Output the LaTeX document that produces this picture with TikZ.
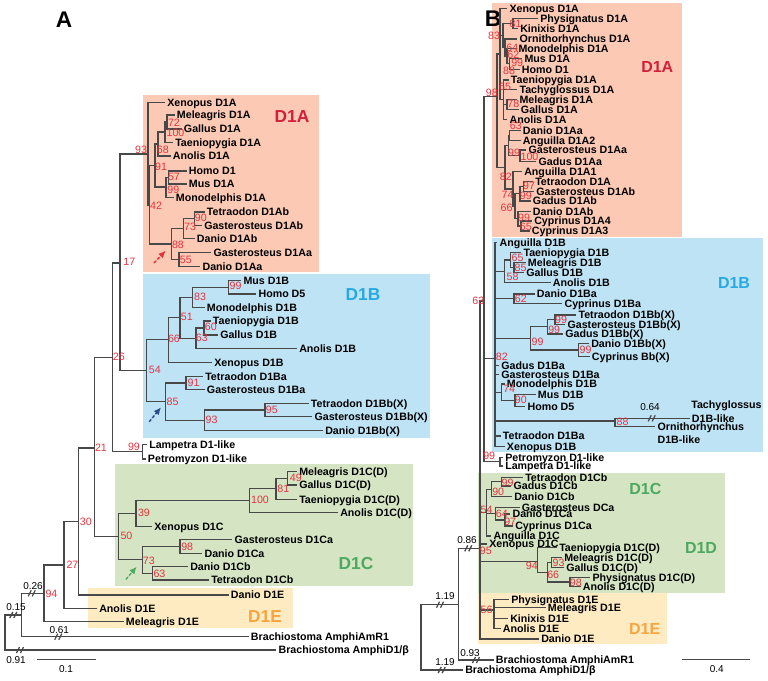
\documentclass[tikz,border=0pt]{standalone}
\usepackage{fontspec}
\setmainfont{Liberation Sans}
\usetikzlibrary{arrows.meta}
\definecolor{lc}{HTML}{484848}
\definecolor{bsred}{HTML}{E3343F}
\definecolor{fillA}{HTML}{FCCAB4}
\definecolor{fillB}{HTML}{BEE3F5}
\definecolor{fillC}{HTML}{D5E5C3}
\definecolor{fillE}{HTML}{FEEBC2}
\definecolor{colA}{HTML}{D31F3A}
\definecolor{colB}{HTML}{27AAE1}
\definecolor{colC}{HTML}{4DA862}
\definecolor{colE}{HTML}{F7A540}
\definecolor{arrB}{HTML}{2B4C8C}
\newcommand\lf[3]{\node[leaf] (#1) at (#2) {#3};}
\newcommand\bsl[3]{\node[bs] (#1) at (#2) {#3};}
\newcommand\eds[2]{\foreach \cc in {#2} {\draw[br] (#1) |- (\cc);}}
\newcommand\brkm[1]{\draw[br,shift={(#1)}] (-3.5,3) -- (-0.5,-3) (0.5,3) -- (3.5,-3);}
\begin{document}
\begin{tikzpicture}[x=0.75pt,y=-0.75pt,
 br/.style={draw=lc,line width=0.95pt},
 leaf/.style={anchor=west,inner xsep=1.5pt,inner ysep=0pt,text height=5.8pt,text depth=0pt,xshift=-1.5pt,font=\bfseries\fontsize{8}{9.6}\selectfont},
 ptxt/.style={anchor=west,inner sep=0pt,text height=5.8pt,text depth=0pt,font=\bfseries\fontsize{8}{9.6}\selectfont},
 bs/.style={text=bsred,inner sep=0pt,font=\fontsize{8}{9.6}\selectfont},
 bl/.style={inner sep=0pt,font=\fontsize{7.5}{9}\selectfont},
 clab/.style={inner sep=0pt,font=\bfseries\fontsize{13}{15}\selectfont},
 clabb/.style={inner sep=0pt,font=\bfseries\fontsize{12}{14}\selectfont},
 plab/.style={inner sep=0pt,font=\bfseries\fontsize{17}{20}\selectfont},
 hint/.style={line width=1.1pt,dash pattern=on 2.2pt off 1.5pt,-{Latex[length=5.5pt,width=5pt]}}
]
\useasboundingbox (0,0) rectangle (768,681);
% ---------- boxes
\fill[fillA] (143.3,95) rectangle (319,272);
\fill[fillB] (143.3,274) rectangle (430,437.7);
\fill[fillC] (115,464) rectangle (413.3,586);
\fill[fillE] (88.3,587.7) rectangle (292.7,628.3);
\fill[fillA] (491.7,2.7) rectangle (681.7,237.3);
\fill[fillB] (491.7,237.7) rectangle (762.7,451.7);
\fill[fillC] (478.3,472.7) rectangle (725,592.7);
\fill[fillE] (478.3,593.3) rectangle (666.7,644);
% ---------- panel and clade labels
\node[plab] (pA) at (64,20) {A};
\node[plab] (pB) at (493,19) {B};
\node[clab,text=colA] (tA1) at (292,117) {D1A};
\node[clab,text=colB] (tB1) at (363,295) {D1B};
\node[clab,text=colC] (tC1) at (356,564) {D1C};
\node[clab,text=colE] (tE1) at (265,617) {D1E};
\node[clabb,text=colA] (tA2) at (657.3,67.3) {D1A};
\node[clabb,text=colB] (tB2) at (734,282.7) {D1B};
\node[clabb,text=colC] (tC2) at (645.3,488.7) {D1C};
\node[clabb,text=colC] (tD2) at (701,548.3) {D1D};
\node[clabb,text=colE] (tE2) at (644.7,629.3) {D1E};
% ================= PANEL A
\lf{aXen}{167,102.7}{Xenopus D1A}
\lf{aMel}{176.7,115}{Meleagris D1A}
\lf{aGal}{183.7,129}{Gallus D1A}
\lf{aTae}{175,142.7}{Taeniopygia D1A}
\lf{aAno}{172.7,156}{Anolis D1A}
\lf{aHom}{188.7,171}{Homo D1}
\lf{aMus}{188.7,184}{Mus D1A}
\lf{aMon}{175.7,197.3}{Monodelphis D1A}
\lf{aTetb}{206.7,212}{Tetraodon D1Ab}
\lf{aGasb}{204,225.3}{Gasterosteus D1Ab}
\lf{aDanb}{196.7,238.7}{Danio D1Ab}
\lf{aGasa}{213.3,252.7}{Gasterosteus D1Aa}
\lf{aDana}{202.3,266.3}{Danio D1Aa}
\coordinate (a93) at (148,154);
\coordinate (a42) at (149.3,205);
\coordinate (a91) at (155,165.5);
\coordinate (a68) at (158,144);
\coordinate (aMGT) at (165,132);
\coordinate (aMG) at (167,122);
\coordinate (a99m) at (166,187);
\coordinate (a57) at (168.3,177.5);
\coordinate (a88) at (171.7,244);
\coordinate (a73) at (183.3,228.7);
\coordinate (a90) at (194.3,218.7);
\coordinate (a55) at (179,259.5);
\eds{a93}{aXen,a42}
\eds{a42}{a91,a88}
\eds{a91}{a68,a99m}
\eds{a68}{aMGT,aAno}
\eds{aMGT}{aMG,aTae}
\eds{aMG}{aMel,aGal}
\eds{a99m}{a57,aMon}
\eds{a57}{aHom,aMus}
\eds{a88}{a73,a55}
\eds{a73}{a90,aDanb}
\eds{a90}{aTetb,aGasb}
\eds{a55}{aGasa,aDana}
% D1B
\lf{aMusB}{243.3,280.7}{Mus D1B}
\lf{aHomB}{258.3,294}{Homo D5}
\lf{aMonB}{206.7,307.3}{Monodelphis D1B}
\lf{aTaeB}{212.7,321}{Taeniopygia D1B}
\lf{aGalB}{220,335}{Gallus D1B}
\lf{aAnoB}{299,348.3}{Anolis D1B}
\lf{aXenB}{214,362.3}{Xenopus D1B}
\lf{aTetBa}{205,376.7}{Tetraodon D1Ba}
\lf{aGasBa}{206.7,389.3}{Gasterosteus D1Ba}
\lf{aTetBb}{310.7,403.3}{Tetraodon D1Bb(X)}
\lf{aGasBb}{314.3,416.7}{Gasterosteus D1Bb(X)}
\lf{aDanBb}{325,430.3}{Danio D1Bb(X)}
\coordinate (aB99) at (228.3,287.3);
\coordinate (aB83) at (192.7,297.3);
\coordinate (aB60) at (204,328);
\coordinate (aB63) at (196,338.2);
\coordinate (aB51) at (180,317.7);
\coordinate (aB66) at (168.3,339.3);
\coordinate (aB91) at (186,383);
\coordinate (aB95) at (265,410);
\coordinate (aB93) at (204.3,420.2);
\coordinate (aB85) at (165.7,401.6);
\coordinate (aB54) at (146.7,370.5);
\eds{aB99}{aMusB,aHomB}
\eds{aB83}{aB99,aMonB}
\eds{aB60}{aTaeB,aGalB}
\eds{aB63}{aB60,aAnoB}
\eds{aB51}{aB83,aB63}
\eds{aB66}{aB51,aXenB}
\eds{aB91}{aTetBa,aGasBa}
\eds{aB95}{aTetBb,aGasBb}
\eds{aB93}{aB95,aDanBb}
\eds{aB85}{aB91,aB93}
\eds{aB54}{aB66,aB85}
% lamprey
\lf{aLam}{149,444.7}{Lampetra D1-like}
\lf{aPet}{147.7,459}{Petromyzon D1-like}
\coordinate (aL) at (142.3,451.8);
\eds{aL}{aLam,aPet}
% D1C
\lf{aMelC}{299,471.7}{Meleagris D1C(D)}
\lf{aGalC}{299,485}{Gallus D1C(D)}
\lf{aTaeC}{299,499.3}{Taeniopygia D1C(D)}
\lf{aAnoC}{340,512.7}{Anolis D1C(D)}
\lf{aXenC}{154,526.7}{Xenopus D1C}
\lf{aGasCa}{234.3,539.3}{Gasterosteus D1Ca}
\lf{aDanCa}{204.3,553.3}{Danio D1Ca}
\lf{aDanCb}{190,566.7}{Danio D1Cb}
\lf{aTetCb}{211,580}{Tetraodon D1Cb}
\coordinate (aC49) at (287.3,478.3);
\coordinate (aC81) at (276,488.8);
\coordinate (aC100) at (249.3,500.8);
\coordinate (aC39) at (136,513.7);
\coordinate (aC98) at (180,546.3);
\coordinate (aC63) at (152.7,573.3);
\coordinate (aC73) at (142.3,559.8);
\coordinate (aC50) at (118.3,536.8);
\eds{aC49}{aMelC,aGalC}
\eds{aC81}{aC49,aTaeC}
\eds{aC100}{aC81,aAnoC}
\eds{aC39}{aC100,aXenC}
\eds{aC98}{aGasCa,aDanCa}
\eds{aC63}{aDanCb,aTetCb}
\eds{aC73}{aC98,aC63}
\eds{aC50}{aC39,aC73}
% deep
\lf{aDanE}{230.7,595}{Danio D1E}
\lf{aAnoE}{99,608.3}{Anolis D1E}
\lf{aMelE}{125.7,621.7}{Meleagris D1E}
\lf{aAmR}{250.7,636.7}{Brachiostoma AmphiAmR1}
\lf{aAmD}{278.3,650}{Brachiostoma AmphiD1/β}
\coordinate (a17) at (120,263);
\coordinate (a26) at (112.7,357.6);
\coordinate (a21) at (94.3,448);
\coordinate (a30) at (78.3,521.5);
\coordinate (a27) at (64,565);
\coordinate (a94) at (44,593.3);
\coordinate (aX) at (21.7,615);
\coordinate (aR) at (5,631.7);
\eds{a17}{a93,aB54}
\eds{a26}{a17,aL}
\eds{a21}{a26,aC50}
\eds{a30}{a21,aDanE}
\eds{a27}{a30,aAnoE}
\eds{a94}{a27,aMelE}
\eds{aX}{a94,aAmR}
\eds{aR}{aX,aAmD}
\brkm{13.3,615}
\brkm{31.7,593.3}
\brkm{58.3,636.7}
\brkm{20,650}
\node[bl] (lA1) at (16,606.7) {0.15};
\node[bl] (lA2) at (33,586) {0.26};
\node[bl] (lA3) at (59.3,630) {0.61};
\node[bl] (lA4) at (16,660) {0.91};
\coordinate (sA1) at (36.7,659.3);
\coordinate (sA2) at (95.7,659.3);
\draw[br] (sA1) -- (sA2);
\node[bl] (sAl) at (66,669.3) {0.1};
% arrows
\coordinate (h1a) at (154,263); \coordinate (h1b) at (165.7,250.7);
\coordinate (h2a) at (149.3,421.7); \coordinate (h2b) at (161,407.3);
\coordinate (h3a) at (126,579.3); \coordinate (h3b) at (136.7,566.7);
\draw[hint,draw=bsred,fill=bsred] (h1a) -- (h1b);
\draw[hint,draw=arrB,fill=arrB] (h2a) -- (h2b);
\draw[hint,draw=colC,fill=colC] (h3a) -- (h3b);
% A support values
\bsl{sa1}{141,150}{93}
\bsl{sa2}{174,122.3}{72}
\bsl{sa3}{175.5,133.3}{100}
\bsl{sa4}{162.8,150}{68}
\bsl{sa5}{161,166.7}{91}
\bsl{sa6}{174,177.3}{57}
\bsl{sa7}{173.3,190}{99}
\bsl{sa8}{156,205.7}{42}
\bsl{sa9}{200.8,217.7}{90}
\bsl{sa10}{190,227.3}{73}
\bsl{sa11}{178,244.7}{88}
\bsl{sa12}{185.8,260.3}{55}
\bsl{sa13}{129.3,261.7}{17}
\bsl{sa14}{235.5,286}{99}
\bsl{sa15}{200,296.7}{83}
\bsl{sa16}{186.8,317.3}{51}
\bsl{sa17}{210.8,327.3}{60}
\bsl{sa18}{201.8,338.3}{63}
\bsl{sa19}{174,339.3}{66}
\bsl{sa20}{154.8,370}{54}
\bsl{sa21}{193.5,383.3}{91}
\bsl{sa22}{172.5,401.7}{85}
\bsl{sa23}{271.8,410}{95}
\bsl{sa24}{211.5,420}{93}
\bsl{sa25}{118.8,356.7}{26}
\bsl{sa26}{101,447.3}{21}
\bsl{sa27}{134,447.3}{99}
\bsl{sa28}{295.8,477.7}{49}
\bsl{sa29}{283.3,489}{81}
\bsl{sa30}{260,500}{100}
\bsl{sa31}{144,512.7}{39}
\bsl{sa32}{85.8,521.7}{30}
\bsl{sa33}{126.5,536}{50}
\bsl{sa34}{187.2,547.3}{98}
\bsl{sa35}{148.8,560.7}{73}
\bsl{sa36}{159.5,574}{63}
\bsl{sa37}{72.5,565}{27}
\bsl{sa38}{51.5,594}{94}
% ================= PANEL B
\lf{bXenA}{509.3,8.3}{Xenopus D1A}
\lf{bPhyA}{540,18.3}{Physignatus D1A}
\lf{bKinA}{520,28.3}{Kinixis D1A}
\lf{bOrnA}{519.3,39}{Ornithorhynchus D1A}
\lf{bMonA}{518.3,48.3}{Monodelphis D1A}
\lf{bMusA}{524.3,58.3}{Mus D1A}
\lf{bHomA}{521.7,69.3}{Homo D1}
\lf{bTaeA}{510.7,80}{Taeniopygia D1A}
\lf{bTacA}{519.3,89.3}{Tachyglossus D1A}
\lf{bMelA}{519.3,99.3}{Meleagris D1A}
\lf{bGalA}{520.7,109.3}{Gallus D1A}
\lf{bAnoA}{509.3,119.3}{Anolis D1A}
\lf{bDanAa}{522.7,130.7}{Danio D1Aa}
\lf{bAngA2}{522.7,140.7}{Anguilla D1A2}
\lf{bGasAa}{528.3,150}{Gasterosteus D1Aa}
\lf{bGadAa}{538.3,161.7}{Gadus D1Aa}
\lf{bAngA1}{524,171.7}{Anguilla D1A1}
\lf{bTetA}{535,181.7}{Tetraodon D1A}
\lf{bGasAb}{536,191.7}{Gasterosteus D1Ab}
\lf{bGadAb}{532.7,201}{Gadus D1Ab}
\lf{bDanAb}{532.7,211.7}{Danio D1Ab}
\lf{bCyp4}{534,221}{Cyprinus D1A4}
\lf{bCyp3}{531.7,231}{Cyprinus D1A3}
\coordinate (b98) at (497,96.7);
\coordinate (bT) at (500,54);
\coordinate (bAm) at (503,35.4);
\coordinate (b81) at (513,23.3);
\coordinate (b64) at (505,47.5);
\coordinate (b62) at (507,56);
\coordinate (b99m) at (509.5,63.8);
\coordinate (bSau) at (503.5,99.7);
\coordinate (b78) at (507,104.3);
\coordinate (b82) at (505,167.4);
\coordinate (b99a) at (508.3,145.8);
\coordinate (b63f) at (509.3,135.7);
\coordinate (b100) at (520,155.8);
\coordinate (b74) at (513,189);
\coordinate (b66) at (515,206.3);
\coordinate (b99b) at (520,193.8);
\coordinate (b97) at (523.3,186.7);
\coordinate (b99c) at (518,218.8);
\coordinate (b65) at (521,226);
\eds{b98}{bT,b82}
\eds{bT}{bXenA,bAm,bSau}
\eds{bAm}{b81,b64}
\eds{b81}{bPhyA,bKinA}
\eds{b64}{bOrnA,b62}
\eds{b62}{bMonA,b99m}
\eds{b99m}{bMusA,bHomA}
\eds{bSau}{bTaeA,bTacA,b78,bAnoA}
\eds{b78}{bMelA,bGalA}
\eds{b82}{b99a,b74}
\eds{b99a}{b63f,b100}
\eds{b63f}{bDanAa,bAngA2}
\eds{b100}{bGasAa,bGadAa}
\eds{b74}{bAngA1,b66}
\eds{b66}{b99b,b99c}
\eds{b99b}{b97,bGadAb}
\eds{b97}{bTetA,bGasAb}
\eds{b99c}{bDanAb,b65}
\eds{b65}{bCyp4,bCyp3}
% B D1B
\lf{bAngB}{499.3,242.3}{Anguilla D1B}
\lf{bTaeB}{523.3,252.7}{Taeniopygia D1B}
\lf{bMelB}{527.7,262.3}{Meleagris D1B}
\lf{bGalB}{526,272.7}{Gallus D1B}
\lf{bAnoB}{552.7,282.3}{Anolis D1B}
\lf{bDanBa}{536.7,294}{Danio D1Ba}
\lf{bCypBa}{564.3,303.7}{Cyprinus D1Ba}
\lf{bTetBb}{578.3,315}{Tetraodon D1Bb(X)}
\lf{bGasBb}{567.3,324.3}{Gasterosteus D1Bb(X)}
\lf{bGadBb}{565,334}{Gadus D1Bb(X)}
\lf{bDanBb}{591,343.3}{Danio D1Bb(X)}
\lf{bCypBb}{591.7,356.7}{Cyprinus Bb(X)}
\lf{bGadBa}{501,365.7}{Gadus D1Ba}
\lf{bGasBa}{501,374.3}{Gasterosteus D1Ba}
\lf{bMonB}{506.7,384}{Monodelphis D1B}
\lf{bMusB}{537.7,394.3}{Mus D1B}
\lf{bHomB}{527.3,406.7}{Homo D5}
\node[ptxt] (bTacB2) at (691,405) {Tachyglossus};
\lf{bTacB}{691.7,418.3}{D1B-like}
\lf{bOrnB}{657.3,426.7}{Ornithorhynchus}
\node[ptxt] (bOrnB2) at (657.3,440) {D1B-like};
\lf{bTetBa}{502.7,436}{Tetraodon D1Ba}
\lf{bXenB}{506.7,446.7}{Xenopus D1B}
\lf{bPet}{505,457.3}{Petromyzon D1-like}
\lf{bLam}{505,466}{Lampetra D1-like}
\coordinate (b63) at (484,301);
\coordinate (bB82) at (495,358.3);
\coordinate (bL) at (500,461.7);
\coordinate (bB58) at (504.3,271.2);
\coordinate (bB65) at (510.7,260.1);
\coordinate (bB85) at (514,267.5);
\coordinate (bB62) at (514,298.8);
\coordinate (bB99c) at (530.7,338.4);
\coordinate (bB99a) at (547.3,326.8);
\coordinate (bB99b) at (555,319.7);
\coordinate (bB99d) at (578.3,350);
\coordinate (bB74) at (501.7,392.3);
\coordinate (bB90) at (515,400.5);
\coordinate (bB88) at (615,421);
\eds{b63}{b98,bB82,bL}
\eds{bB82}{bAngB,bB58,bB62,bB99c,bGadBa,bGasBa,bB74,bB88,bTetBa,bXenB}
\eds{bB58}{bB65,bAnoB}
\eds{bB65}{bTaeB,bB85}
\eds{bB85}{bMelB,bGalB}
\eds{bB62}{bDanBa,bCypBa}
\eds{bB99c}{bB99a,bB99d}
\eds{bB99a}{bB99b,bGadBb}
\eds{bB99b}{bTetBb,bGasBb}
\eds{bB99d}{bDanBb,bCypBb}
\eds{bB74}{bMonB,bB90}
\eds{bB90}{bMusB,bHomB}
\eds{bB88}{bTacB,bOrnB}
\eds{bL}{bPet,bLam}
\brkm{651.7,418.3}
\node[bl] (lB5) at (650,407.3) {0.64};
% B D1C D1D D1E
\lf{bTetCb}{525,477.3}{Tetraodon D1Cb}
\lf{bGadCb}{513.3,486}{Gadus D1Cb}
\lf{bDanCb}{514,496.7}{Danio D1Cb}
\lf{bGasCa}{521.7,507.3}{Gasterosteus DCa}
\lf{bDanCa}{512.3,514}{Danio D1Ca}
\lf{bCypCa}{515,526}{Cyprinus D1Ca}
\lf{bAngC}{493.3,536}{Anguilla D1C}
\lf{bXenC}{489,544}{Xenopus D1C}
\lf{bTaeC}{559,547.3}{Taeniopygia D1C(D)}
\lf{bMelC}{564,557.7}{Meleagris D1C(D)}
\lf{bGalC}{566,567.3}{Gallus D1C(D)}
\lf{bPhyC}{592.3,577.3}{Physignatus D1C(D)}
\lf{bAnoC}{582.7,586.7}{Anolis D1C(D)}
\lf{bPhyE}{511,599.3}{Physignatus D1E}
\lf{bMelE}{547.7,607.7}{Meleagris D1E}
\lf{bKinE}{510,618.3}{Kinixis D1E}
\lf{bAnoE}{502.7,628.3}{Anolis D1E}
\lf{bDanE}{541,639}{Danio D1E}
\lf{bAmR}{495.7,660}{Brachiostoma AmphiAmR1}
\lf{bAmD}{465,670}{Brachiostoma AmphiD1/β}
\coordinate (bV) at (480,548.3);
\coordinate (bC54) at (486.7,512.6);
\coordinate (bC90) at (491.7,489.2);
\coordinate (bC99) at (501.7,481.7);
\coordinate (bC64) at (495.7,513.7);
\coordinate (bC97) at (505,520);
\coordinate (bC94) at (537.7,561.7);
\coordinate (bC66) at (547.3,572.3);
\coordinate (bC93) at (551.7,562.5);
\coordinate (bC98) at (570,582);
\coordinate (bE56) at (494,610);
\coordinate (bN1) at (458.3,604.7);
\coordinate (bR) at (421,637.5);
\eds{bR}{bN1,bAmD}
\eds{bN1}{bV,bAmR}
\eds{bV}{b63,bC54,bXenC,bC94,bE56,bDanE}
\eds{bC54}{bC90,bC64,bAngC}
\eds{bC90}{bC99,bDanCb}
\eds{bC99}{bTetCb,bGadCb}
\eds{bC64}{bGasCa,bC97}
\eds{bC97}{bDanCa,bCypCa}
\eds{bC94}{bTaeC,bC66}
\eds{bC66}{bC93,bC98}
\eds{bC93}{bMelC,bGalC}
\eds{bC98}{bPhyC,bAnoC}
\eds{bE56}{bPhyE,bMelE,bKinE,bAnoE}
\brkm{440,604.7}
\brkm{441.7,670}
\brkm{468.3,548.3}
\brkm{476,660}
\node[bl] (lB1) at (445,596) {1.19};
\node[bl] (lB2) at (445,662) {1.19};
\node[bl] (lB3) at (467,540) {0.86};
\node[bl] (lB4) at (470,653) {0.93};
\coordinate (sB1) at (682.3,659.3);
\coordinate (sB2) at (750,659.3);
\draw[br] (sB1) -- (sB2);
\node[bl] (sBl) at (716.7,669.3) {0.4};
% B support values
\bsl{sb1}{515.5,24}{81}
\bsl{sb2}{494,36}{83}
\bsl{sb3}{512.3,47.7}{64}
\bsl{sb4}{513.3,55}{62}
\bsl{sb5}{517.2,62.7}{99}
\bsl{sb6}{509,70.7}{88}
\bsl{sb7}{505,87.3}{65}
\bsl{sb8}{513.3,104.3}{78}
\bsl{sb9}{491.8,92.7}{98}
\bsl{sb10}{515.8,126}{63}
\bsl{sb11}{514,152.7}{99}
\bsl{sb12}{529.5,156.7}{100}
\bsl{sb13}{505.8,177.3}{82}
\bsl{sb14}{529,185.7}{97}
\bsl{sb15}{507.5,195}{74}
\bsl{sb16}{525.8,196}{99}
\bsl{sb17}{506.5,208.3}{66}
\bsl{sb18}{524,217.7}{99}
\bsl{sb19}{525.8,227.3}{65}
\bsl{sb20}{517.5,258.3}{65}
\bsl{sb21}{520.5,267.7}{85}
\bsl{sb22}{512.5,276.7}{58}
\bsl{sb23}{478.3,301}{63}
\bsl{sb24}{520.8,299}{62}
\bsl{sb25}{561,320}{99}
\bsl{sb26}{554.2,330}{99}
\bsl{sb27}{537.5,342.3}{99}
\bsl{sb28}{585.5,350}{99}
\bsl{sb29}{501.8,356.7}{82}
\bsl{sb30}{509.2,389.3}{74}
\bsl{sb31}{520.8,400}{90}
\bsl{sb32}{622.5,421.7}{88}
\bsl{sb33}{489.2,456}{99}
\bsl{sb34}{507.5,482.7}{99}
\bsl{sb35}{498.2,492.3}{90}
\bsl{sb36}{486.5,510}{54}
\bsl{sb37}{501.8,514}{64}
\bsl{sb38}{510.2,522.3}{97}
\bsl{sb39}{485.8,550.7}{95}
\bsl{sb40}{531.8,566}{94}
\bsl{sb41}{558.5,563.3}{93}
\bsl{sb42}{553.2,575}{66}
\bsl{sb43}{575.8,583.3}{98}
\bsl{sb44}{486.5,610}{56}
\end{tikzpicture}
\end{document}
